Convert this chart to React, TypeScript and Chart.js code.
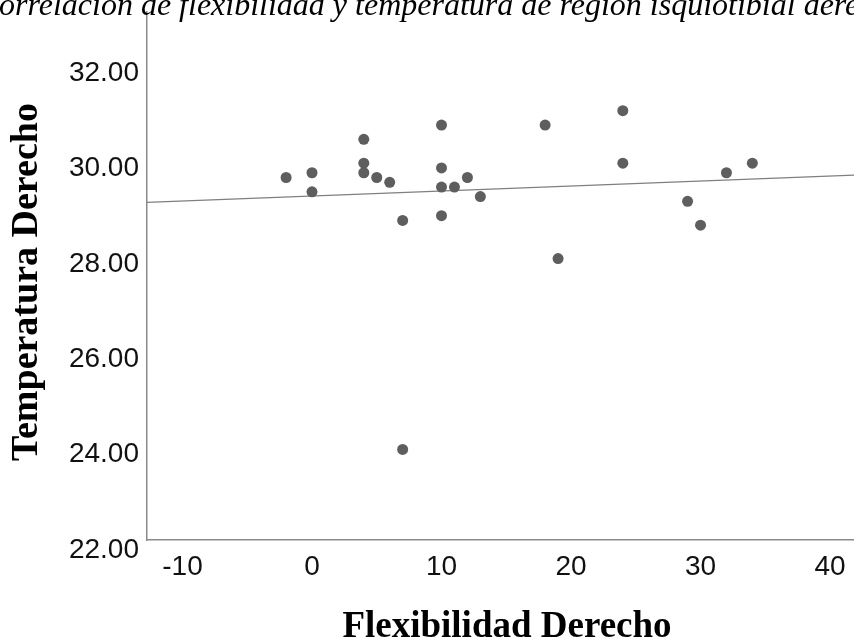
import React, { useEffect, useRef } from "react";
import { Chart, registerables } from "chart.js";

Chart.register(...registerables);

// Data
const flexibilidad = [-2, 0, 0, 4, 4, 4, 5, 6, 7, 7, 10, 10, 10, 10, 11, 12, 13, 18, 19, 24, 24, 29, 30, 32, 34];
const temperatura = [29.6, 29.7, 29.3, 30.4, 29.9, 29.7, 29.6, 29.5, 28.7, 23.9, 30.7, 29.8, 29.4, 28.8, 29.4, 29.6, 29.2, 30.7, 27.9, 31.0, 29.9, 29.1, 28.6, 29.7, 29.9];
const fitX = [-12.74, 41.85];
const fitY = [29.08, 29.65];
const xTicks = [-10, 0, 10, 20, 30, 40];
const yTicks = [22, 24, 26, 28, 30, 32];
const titleText = "Correlación de flexibilidad y temperatura de región isquiotibial derecho";
const xTitle = "Flexibilidad Derecho";
const yTitle = "Temperatura Derecho";

const SERIF = '"Liberation Serif", "Times New Roman", serif';
const SANS = '"Liberation Sans", Arial, sans-serif';

const textPlugin = {
  id: "spssText",
  afterDraw(chart: any) {
    const ctx = chart.ctx as CanvasRenderingContext2D;
    const area = chart.chartArea;
    ctx.save();
    ctx.fillStyle = "#000";
    ctx.textBaseline = "alphabetic";
    // top title (cropped at the left and top)
    ctx.font = `italic 32px ${SERIF}`;
    ctx.textAlign = "left";
    const cw = ctx.measureText("C").width;
    ctx.fillText(titleText, -cw - 1, 15);
    // x title
    ctx.font = `bold 37px ${SERIF}`;
    ctx.textAlign = "center";
    ctx.fillText(xTitle, 507, 637);
    // y title
    ctx.font = `bold 38px ${SERIF}`;
    ctx.translate(37, (area.top + area.bottom) / 2 + 6);
    ctx.rotate(-Math.PI / 2);
    ctx.fillText(yTitle, 0, 0);
    ctx.restore();
  },
};

const zeroPad = (s: any) => {
  s.paddingTop = 0;
  s.paddingBottom = 0;
  s.paddingLeft = 0;
  s.paddingRight = 0;
};

export default function App() {
  const ref = useRef<HTMLCanvasElement | null>(null);
  useEffect(() => {
    if (!ref.current) return;
    const points = flexibilidad.map((x, i) => ({ x, y: temperatura[i] }));
    const fit = fitX.map((x, i) => ({ x, y: fitY[i] }));
    const chart = new Chart(ref.current, {
      type: "scatter",
      data: {
        datasets: [
          {
            data: points,
            backgroundColor: "#5e5e5e",
            borderColor: "#5e5e5e",
            pointRadius: 5.5,
            pointBorderWidth: 0,
          },
          {
            data: fit,
            showLine: true,
            pointRadius: 0,
            borderColor: "#7f7f7f",
            borderWidth: 1.3,
            backgroundColor: "#7f7f7f",
          } as any,
        ],
      },
      options: {
        animation: false,
        responsive: false,
        layout: { autoPadding: false, padding: { top: 12, right: 0, left: 0, bottom: 0 } },
        plugins: {
          legend: { display: false },
          tooltip: { enabled: false },
          title: { display: false },
        },
        scales: {
          x: {
            type: "linear",
            min: -12.74,
            max: 41.85,
            afterBuildTicks: (s: any) => {
              s.ticks = xTicks.map((v) => ({ value: v }));
            },
            afterFit: (s: any) => {
              s.height = 99;
              zeroPad(s);
            },
            grid: { display: true, drawOnChartArea: false, drawTicks: false },
            border: { display: true, color: "#8a8a8a", width: 1.5 },
            ticks: {
              padding: 0,
              color: "#111",
              font: { family: SANS, size: 28, lineHeight: 1.93 },
              maxRotation: 0,
              callback: (v: any) => String(v),
            },
          },
          y: {
            type: "linear",
            min: 22,
            max: 33.07,
            afterBuildTicks: (s: any) => {
              s.ticks = yTicks.map((v) => ({ value: v }));
            },
            afterFit: (s: any) => {
              s.width = 147;
              zeroPad(s);
            },
            grid: { display: true, drawOnChartArea: false, drawTicks: false },
            border: { display: true, color: "#8a8a8a", width: 1.5 },
            ticks: {
              padding: 8,
              labelOffset: 10,
              color: "#111",
              font: { family: SANS, size: 28 },
              callback: (v: any) => Number(v).toFixed(2),
            },
          },
        },
      },
      plugins: [textPlugin],
    });
    return () => chart.destroy();
  }, []);
  return (
    <div style={{ position: "absolute", left: 0, top: 0, width: 854, height: 639, background: "#fff" }}>
      <canvas ref={ref} width={854} height={639} />
    </div>
  );
}
